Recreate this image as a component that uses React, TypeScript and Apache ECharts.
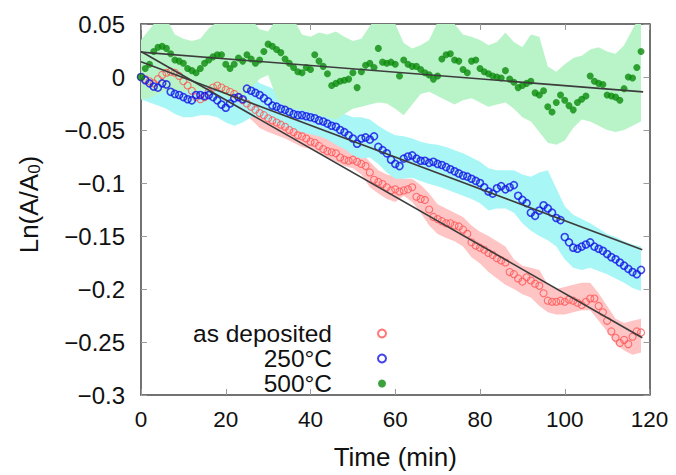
import React, { useEffect, useRef } from "react";
import * as echarts from "echarts";

// sampling times (min), one reading per minute
const time: number[] = Array.from({ length: 119 }, (_, i) => i);
// time grid of the shaded uncertainty bands (min)
const bandTime: number[] = Array.from({ length: 60 }, (_, i) => i * 2);

const seriesNames = ["as deposited", "250°C", "500°C"];

const asDeposited = [
  0.0, -0.002, -0.004, -0.006, -0.002, 0.002, 0.004, 0.005, 0.004, 0.001,
  -0.004, -0.008, -0.013, -0.019, -0.021, -0.019, -0.014, -0.01, -0.008, -0.01,
  -0.012, -0.014, -0.016, -0.019, -0.022, -0.025, -0.028, -0.031, -0.034, -0.036,
  -0.039, -0.041, -0.043, -0.045, -0.047, -0.05, -0.052, -0.055, -0.056, -0.058,
  -0.061, -0.062, -0.065, -0.068, -0.07, -0.071, -0.072, -0.076, -0.078, -0.079,
  -0.078, -0.08, -0.082, -0.084, -0.09, -0.097, -0.099, -0.101, -0.104, -0.107,
  -0.106, -0.108, -0.107, -0.106, -0.104, -0.113, -0.115, -0.116, -0.125, -0.132,
  -0.134, -0.136, -0.138, -0.138, -0.14, -0.141, -0.144, -0.148, -0.156, -0.159,
  -0.161, -0.163, -0.166, -0.168, -0.171, -0.173, -0.175, -0.184, -0.186, -0.19,
  -0.193, -0.189, -0.192, -0.195, -0.197, -0.204, -0.211, -0.212, -0.212, -0.211,
  -0.212, -0.21, -0.211, -0.213, -0.215, -0.212, -0.209, -0.209, -0.216, -0.222,
  -0.23, -0.24, -0.246, -0.251, -0.248, -0.252, -0.245, -0.24, -0.241,
];

const annealed250 = [
  0.0, -0.003, -0.006, -0.009, -0.01, -0.006, -0.007, -0.014, -0.016, -0.017,
  -0.019, -0.021, -0.022, -0.017, -0.017, -0.018, -0.017, -0.019, -0.022, -0.026,
  -0.029, -0.025, -0.02, -0.019, -0.021, -0.011, -0.013, -0.015, -0.017, -0.02,
  -0.023, -0.027, -0.028, -0.03, -0.031, -0.033, -0.035, -0.036, -0.036, -0.037,
  -0.038, -0.039, -0.041, -0.042, -0.044, -0.046, -0.047, -0.05, -0.052, -0.055,
  -0.058, -0.063, -0.058, -0.057, -0.059, -0.056, -0.066, -0.069, -0.072, -0.078,
  -0.082, -0.084, -0.077, -0.075, -0.074, -0.077, -0.079, -0.079, -0.081, -0.08,
  -0.082, -0.083, -0.085, -0.087, -0.089, -0.091, -0.093, -0.094, -0.096, -0.098,
  -0.1, -0.104, -0.108, -0.11, -0.105, -0.103, -0.106, -0.104, -0.102, -0.112,
  -0.116, -0.119, -0.128, -0.131, -0.126, -0.121, -0.124, -0.128, -0.133, -0.135,
  -0.151, -0.156, -0.161, -0.162, -0.16, -0.158, -0.156, -0.16, -0.162, -0.164,
  -0.167, -0.17, -0.172, -0.175, -0.178, -0.181, -0.184, -0.186, -0.182,
];

const annealed500 = [
  0.0, 0.008, 0.012, 0.024, 0.028, 0.029, 0.027, 0.022, 0.016, 0.015,
  0.013, 0.008, 0.006, 0.004, 0.008, 0.013, 0.016, 0.019, 0.021, 0.021,
  0.012, 0.008, 0.012, 0.018, 0.015, 0.021, 0.017, 0.013, 0.016, 0.024,
  0.031, 0.029, 0.026, 0.023, 0.017, 0.013, 0.009, 0.005, 0.004, 0.009,
  0.007, 0.021, 0.015, 0.01, 0.003, -0.008, -0.006, -0.004, -0.003, -0.002,
  0.004, -0.01, 0.005, 0.011, 0.013, 0.009, 0.027, 0.014, 0.013, 0.014,
  0.012, 0.001, 0.016, 0.012, 0.01, 0.01, 0.007, 0.004, 0.002, -0.002,
  0.001, 0.017, 0.021, 0.022, 0.016, 0.015, 0.007, 0.004, 0.015, 0.016,
  0.008, 0.005, 0.003, 0.001, 0.0, -0.001, 0.006, -0.002, -0.005, -0.01,
  -0.008, -0.006, -0.004, -0.015, -0.017, -0.013, -0.028, -0.033, -0.024, -0.017,
  -0.022, -0.027, -0.031, -0.024, -0.021, -0.018, 0.001, -0.004, -0.006, -0.007,
  -0.017, -0.018, -0.019, -0.022, -0.011, 0.0, -0.001, 0.009, 0.024,
];

// uncertainty bands (upper / lower edge on bandTime grid)
const bandDepositedUpper = [
  0.012, 0.01, 0.01, 0.015, 0.015, 0.008, -0.003, -0.008, -0.002, 0.002,
  0.0, -0.005, -0.01, -0.016, -0.022, -0.027, -0.031, -0.035, -0.04, -0.044,
  -0.048, -0.053, -0.058, -0.061, -0.066, -0.068, -0.072, -0.08, -0.088, -0.092,
  -0.094, -0.096, -0.096, -0.102, -0.11, -0.12, -0.124, -0.128, -0.132, -0.14,
  -0.146, -0.15, -0.155, -0.16, -0.172, -0.178, -0.18, -0.182, -0.196, -0.2,
  -0.198, -0.196, -0.194, -0.194, -0.204, -0.216, -0.228, -0.232, -0.23, -0.228,
];
const bandDepositedLower = [
  -0.012, -0.016, -0.014, -0.01, -0.01, -0.018, -0.028, -0.032, -0.026, -0.022,
  -0.025, -0.028, -0.034, -0.04, -0.048, -0.052, -0.055, -0.058, -0.062, -0.066,
  -0.068, -0.072, -0.076, -0.08, -0.084, -0.086, -0.092, -0.104, -0.11, -0.115,
  -0.118, -0.112, -0.118, -0.128, -0.14, -0.148, -0.152, -0.155, -0.16, -0.17,
  -0.176, -0.184, -0.19, -0.196, -0.2, -0.205, -0.208, -0.216, -0.222, -0.224,
  -0.224, -0.222, -0.22, -0.22, -0.23, -0.24, -0.252, -0.258, -0.262, -0.26,
];
const band250Upper = [
  0.01, 0.008, 0.006, 0.003, 0.0, -0.003, -0.004, -0.002, -0.001, -0.002,
  -0.004, -0.002, 0.0, 0.002, -0.006, -0.009, -0.013, -0.017, -0.02, -0.022,
  -0.024, -0.026, -0.028, -0.032, -0.035, -0.038, -0.038, -0.04, -0.046, -0.051,
  -0.055, -0.056, -0.058, -0.061, -0.063, -0.064, -0.066, -0.069, -0.072, -0.076,
  -0.08, -0.086, -0.088, -0.088, -0.088, -0.092, -0.094, -0.09, -0.088, -0.105,
  -0.122, -0.13, -0.134, -0.138, -0.143, -0.148, -0.151, -0.155, -0.158, -0.16,
];
const band250Lower = [
  -0.021, -0.024, -0.027, -0.03, -0.035, -0.038, -0.038, -0.036, -0.036, -0.038,
  -0.043, -0.046, -0.043, -0.038, -0.037, -0.041, -0.044, -0.047, -0.05, -0.052,
  -0.054, -0.056, -0.059, -0.064, -0.068, -0.074, -0.077, -0.076, -0.082, -0.09,
  -0.096, -0.096, -0.095, -0.098, -0.101, -0.103, -0.106, -0.109, -0.112, -0.115,
  -0.119, -0.126, -0.124, -0.124, -0.128, -0.138, -0.145, -0.15, -0.154, -0.16,
  -0.172, -0.18, -0.182, -0.18, -0.183, -0.186, -0.19, -0.194, -0.199, -0.202,
];
const band500Upper = [
  0.035, 0.045, 0.055, 0.055, 0.04, 0.036, 0.034, 0.036, 0.046, 0.052,
  0.055, 0.052, 0.055, 0.055, 0.045, 0.043, 0.055, 0.058, 0.055, 0.04,
  0.038, 0.042, 0.04, 0.043, 0.038, 0.034, 0.036, 0.048, 0.058, 0.055,
  0.05, 0.032, 0.027, 0.03, 0.035, 0.052, 0.06, 0.05, 0.04, 0.038,
  0.035, 0.03, 0.033, 0.042, 0.033, 0.028, 0.04, 0.038, 0.01, 0.005,
  0.012, 0.018, 0.02, 0.026, 0.028, 0.024, 0.022, 0.03, 0.045, 0.06,
];
const band500Lower = [
  -0.021, -0.02, -0.016, -0.013, -0.012, -0.014, -0.014, -0.013, -0.01, -0.012,
  -0.018, -0.022, -0.02, -0.01, -0.002, 0.002, -0.02, -0.028, -0.03, -0.031,
  -0.033, -0.036, -0.038, -0.04, -0.035, -0.03, -0.028, -0.026, -0.024, -0.025,
  -0.03, -0.036, -0.026, -0.016, -0.014, -0.018, -0.022, -0.026, -0.022, -0.02,
  -0.024, -0.028, -0.026, -0.024, -0.03, -0.038, -0.042, -0.052, -0.062, -0.064,
  -0.06, -0.048, -0.04, -0.042, -0.046, -0.05, -0.052, -0.05, -0.046, -0.042,
];

// linear fits: [time, value] end points
const fitDeposited = [[0, 0.024], [118.3, -0.246]];
const fit250 = [[0, 0.0145], [118.3, -0.163]];
const fit500 = [[0, 0.0235], [118.5, -0.014]];

const xTicks = { min: 0, max: 120, interval: 20 };
const yTicks = { min: -0.3, max: 0.05, interval: 0.05 };

const FONT = "'Liberation Sans', Arial, Helvetica, sans-serif";

export default function App() {
  const ref = useRef<HTMLDivElement>(null);

  useEffect(() => {
    if (!ref.current) return;
    const chart = echarts.init(ref.current, null, { renderer: "svg" });

    const pts = (vals: number[]) => time.map((t, i) => [t, vals[i]]);

    const band = (upper: number[], lower: number[], color: string, id: string, z: number) => ({
      type: "custom",
      id,
      silent: true,
      clip: true,
      z,
      data: [[bandTime[0], upper[0]]],
      renderItem: (params: any, api: any) => {
        const points: number[][] = [];
        for (let i = 0; i < bandTime.length; i++) points.push(api.coord([bandTime[i], upper[i]]));
        for (let i = bandTime.length - 1; i >= 0; i--) points.push(api.coord([bandTime[i], lower[i]]));
        const cs = params.coordSys;
        return {
          type: "polygon",
          shape: { points },
          style: { fill: color },
          clipPath: { type: "rect", shape: { x: cs.x, y: cs.y, width: cs.width, height: cs.height } },
        };
      },
    });

    const fitLine = (d: number[][], id: string) => ({
      type: "line",
      id,
      data: d,
      symbol: "none",
      silent: true,
      z: 6,
      lineStyle: { color: "#3c3c3c", width: 1.6 },
    });

    const axisLine = { show: true, onZero: false, lineStyle: { color: "#444", width: 1.5 } };
    const axisTick = { show: true, inside: true, length: 6, lineStyle: { color: "#9a9a9a", width: 1 } };
    const yFmt = (v: number) => {
      const r = Math.round(v * 100) / 100;
      if (r === 0) return "0";
      return r < 0 ? "\u2212" + String(-r) : String(r);
    };

    chart.setOption({
      animation: false,
      backgroundColor: "#ffffff",
      grid: { left: 141, right: 26.5, top: 24, bottom: 73.3, containLabel: false },
      legend: {
        orient: "vertical",
        align: "right",
        right: 289,
        top: 321,
        padding: 0,
        itemGap: 0,
        itemWidth: 8,
        itemHeight: 8,
        selectedMode: false,
        data: seriesNames,
        textStyle: { fontSize: 24.5, color: "#111", fontFamily: FONT, lineHeight: 25, padding: [0, 41, 0, 0] },
      },
      xAxis: [
        {
          type: "value",
          ...xTicks,
          position: "bottom",
          name: "Time (min)",
          nameLocation: "middle",
          nameGap: 49,
          nameTextStyle: { fontSize: 26, color: "#111", fontFamily: FONT },
          axisLine,
          axisTick,
          axisLabel: { fontSize: 22.5, color: "#111", fontFamily: FONT, margin: 13 },
          splitLine: { show: false },
        },
        {
          type: "value",
          ...xTicks,
          position: "top",
          axisLine,
          axisTick,
          axisLabel: { show: false },
          splitLine: { show: false },
        },
      ],
      yAxis: [
        {
          type: "value",
          ...yTicks,
          position: "left",
          name: "{a|Ln(A/A}{b|0}{a|)}",
          nameLocation: "middle",
          nameRotate: 90,
          nameGap: 98,
          nameTextStyle: {
            padding: [0, 0, 0, 10],
            rich: {
              a: { fontSize: 26, color: "#111", fontFamily: FONT, lineHeight: 28 },
              b: { fontSize: 17, color: "#111", fontFamily: FONT, lineHeight: 11, verticalAlign: "bottom" },
            },
          },
          axisLine,
          axisTick,
          axisLabel: { fontSize: 24, color: "#111", fontFamily: FONT, margin: 16, formatter: yFmt },
          splitLine: { show: false },
        },
        {
          type: "value",
          ...yTicks,
          position: "right",
          axisLine,
          axisTick,
          axisLabel: { show: false },
          splitLine: { show: false },
        },
      ],
      series: [
        band(bandDepositedUpper, bandDepositedLower, "#ffc4c4", "bandDep", 1),
        band(band250Upper, band250Lower, "#a9f6f6", "band250", 1),
        band(band500Upper, band500Lower, "#b9f4c9", "band500", 1),
        {
          type: "scatter",
          name: seriesNames[0],
          data: pts(asDeposited),
          symbol: "circle",
          symbolSize: 7,
          z: 3,
          itemStyle: { color: "rgba(0,0,0,0)", borderColor: "#ff5555", borderWidth: 1.1 },
        },
        {
          type: "scatter",
          name: seriesNames[1],
          data: pts(annealed250),
          symbol: "circle",
          symbolSize: 7,
          z: 4,
          itemStyle: { color: "rgba(0,0,0,0)", borderColor: "#1414e6", borderWidth: 1.6 },
        },
        {
          type: "scatter",
          name: seriesNames[2],
          data: pts(annealed500),
          symbol: "circle",
          symbolSize: 7,
          z: 5,
          itemStyle: { color: "#0b8a0b" },
        },
        fitLine(fitDeposited, "fitDep"),
        fitLine(fit250, "fit250"),
        fitLine(fit500, "fit500"),
      ],
    });

    return () => chart.dispose();
  }, []);

  return (
    <div
      ref={ref}
      style={{ position: "fixed", left: 0, top: 0, width: 676, height: 475, background: "#fff" }}
    />
  );
}
